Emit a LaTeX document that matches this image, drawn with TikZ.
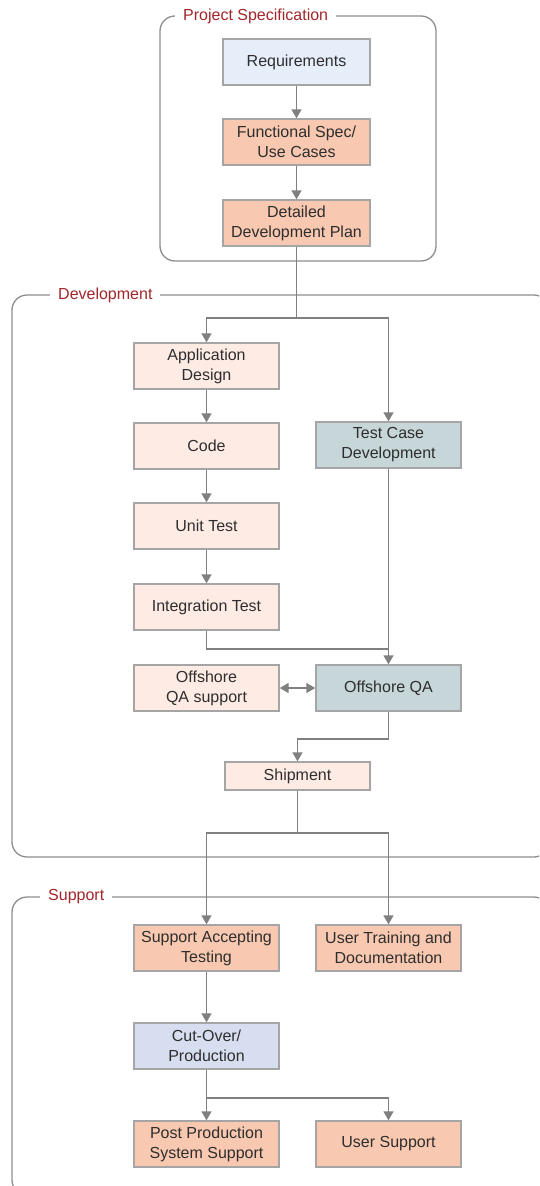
\documentclass[tikz,border=0pt]{standalone}
\usepackage{fontspec}
\setmainfont{Liberation Sans}
\usetikzlibrary{arrows.meta}
\definecolor{lineg}{HTML}{808080}
\definecolor{boxg}{HTML}{A5A5A5}
\definecolor{frameg}{HTML}{8E8E8E}
\definecolor{lab}{HTML}{A3262A}
\definecolor{txt}{HTML}{2E2E2E}
\definecolor{cblue}{HTML}{E6EEFA}
\definecolor{csalmon}{HTML}{F8C8B0}
\definecolor{cpeach}{HTML}{FDEBE4}
\definecolor{cteal}{HTML}{C6D6D9}
\definecolor{cperi}{HTML}{D6DEF0}
\tikzset{
  box/.style={draw=boxg, line width=1.4pt, minimum width=145pt, minimum height=46pt,
    align=center, text=txt, font=\fontsize{16}{20}\selectfont, inner sep=2pt},
  conn/.style={draw=lineg, line width=1.6pt},
  arr/.style={conn, -{Triangle[length=9pt,width=10pt]}},
  frame/.style={draw=frameg, line width=1.3pt, rounded corners=15pt},
  grplabel/.style={fill=white, text=lab, font=\fontsize{16}{19}\selectfont, inner xsep=8pt, inner ysep=2pt, anchor=west}
}
\begin{document}
\begin{tikzpicture}[x=1pt,y=-1pt]
\useasboundingbox (0,0) rectangle (539,1186);
\clip (0,0) rectangle (539,1186);
% frames
\draw[frame] (160,16) rectangle (436,261);
\node[grplabel] (lps) at (175,16) {Project Specification};
\draw[frame] (12,295) rectangle (549,857);
\node[grplabel] (ldev) at (50,295) {Development};
\draw[frame] (12,897) rectangle (549,1195);
\node[grplabel] (lsup) at (40,897) {Support};
% nodes
\node[box, fill=cblue, minimum width=147pt] (req) at (296.5,62) {Requirements};
\node[box, fill=csalmon, minimum width=147pt] (func) at (296.5,142) {Functional Spec/\\Use Cases};
\node[box, fill=csalmon, minimum width=147pt] (det) at (296.5,223) {Detailed\\Development Plan};
\node[box, fill=cpeach] (app) at (206.5,366) {Application\\Design};
\node[box, fill=cpeach] (code) at (206.5,446) {Code};
\node[box, fill=cteal] (tcd) at (388.5,445) {Test Case\\Development};
\node[box, fill=cpeach] (unit) at (206.5,526) {Unit Test};
\node[box, fill=cpeach] (integ) at (206.5,607) {Integration Test};
\node[box, fill=cpeach] (oqs) at (206.5,688) {Offshore\\QA support};
\node[box, fill=cteal] (oqa) at (388.5,688) {Offshore QA};
\node[box, fill=cpeach, minimum height=28pt] (ship) at (297.5,776) {Shipment};
\node[box, fill=csalmon] (sat) at (206.5,948) {Support Accepting\\Testing};
\node[box, fill=csalmon] (utd) at (388.5,948) {User Training and\\Documentation};
\node[box, fill=cperi] (cut) at (206.5,1046) {Cut-Over/\\Production};
\node[box, fill=csalmon] (pps) at (206.5,1144) {Post Production\\System Support};
\node[box, fill=csalmon] (us) at (388.5,1144) {User Support};
% junctions
\coordinate (j1) at (296.5,318);
\coordinate (j2) at (388.5,649);
\coordinate (j3) at (388.5,739);
\coordinate (j4) at (297.5,833);
\coordinate (j5) at (206.5,1098);
% connectors
\draw[arr] (req) -- (func);
\draw[arr] (func) -- (det);
\draw[conn] (det.south) -- (j1);
\draw[arr] (j1) -| (app.north);
\draw[arr] (j1) -| (tcd.north);
\draw[arr] (app) -- (code);
\draw[arr] (code) -- (unit);
\draw[arr] (unit) -- (integ);
\draw[conn] (tcd.south) -- (j2);
\draw[arr] (integ.south) |- (j2) -- (oqa.north);
\draw[conn, {Triangle[length=9pt,width=10pt]}-{Triangle[length=9pt,width=10pt]}] (oqs.east) -- (oqa.west);
\draw[arr] (oqa.south) -- (j3) -| (ship.north);
\draw[conn] (ship.south) -- (j4);
\draw[arr] (j4) -| (sat.north);
\draw[arr] (j4) -| (utd.north);
\draw[arr] (sat) -- (cut);
\draw[arr] (cut.south) -- (pps.north);
\draw[arr] (j5) -| (us.north);
\end{tikzpicture}
\end{document}
